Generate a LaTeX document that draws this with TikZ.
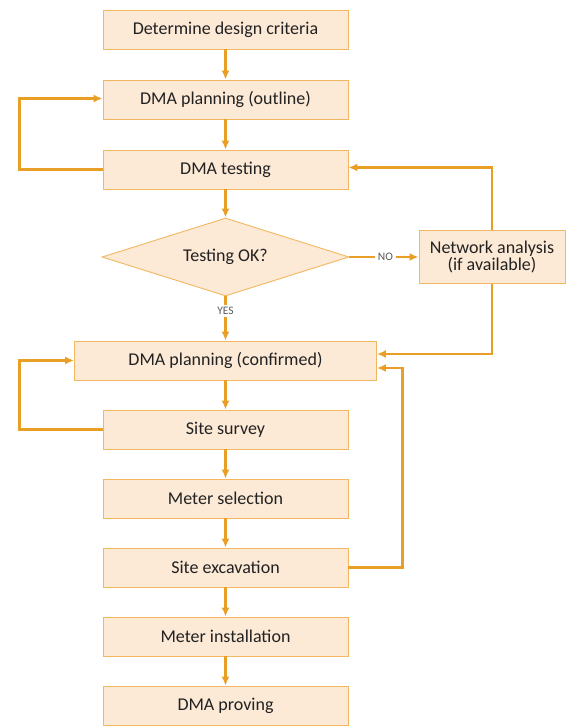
\documentclass[tikz,border=0pt]{standalone}
\usepackage{fontspec}
\setmainfont{Carlito}
\usetikzlibrary{positioning,shapes.geometric,arrows.meta}
\definecolor{flowline}{HTML}{E99E26}
\definecolor{boxedge}{HTML}{F2B860}
\definecolor{boxfill}{HTML}{FCE9D6}
\definecolor{ink}{HTML}{222222}
\tikzset{>={Latex[length=9pt,width=8pt]}}
\tikzset{
  stepbox/.style={draw=boxedge, line width=0.9pt, fill=boxfill, text=ink,
    minimum width=245pt, minimum height=39pt, inner sep=0pt,
    font=\fontsize{18}{19}\selectfont},
  flow/.style={draw=flowline, line width=2.2pt},
  lbl/.style={text=ink!75, inner sep=2.5pt, font=\fontsize{11.5}{12}\selectfont}
}

\begin{document}
\begin{tikzpicture}[x=1pt, y=1pt]
      \useasboundingbox (0,0) rectangle (567,-727);
      \node[stepbox] (n0) at (225.5,-29.5) {Determine design criteria};
      \node[stepbox, below of=n0, node distance=70pt] (n1) {DMA planning (outline)};
      \node[stepbox, below of=n1, node distance=70pt] (n2) {DMA testing};
      \node[stepbox, diamond, aspect=3.2, minimum width=247pt, minimum height=78pt, below of=n2, node distance=87.5pt] (dia) {Testing OK?};
      \node[stepbox, align=center, minimum width=146pt, minimum height=53pt, right of=dia, node distance=266.5pt, font=\fontsize{18}{16}\selectfont] (na) {Network analysis\\(if available)};
      \node[stepbox, minimum width=302pt, below of=dia, node distance=103.5pt] (n3) {DMA planning (confirmed)};
      \node[stepbox, below of=n3, node distance=69pt] (n4) {Site survey};
      \node[stepbox, below of=n4, node distance=69pt] (n5) {Meter selection};
      \node[stepbox, below of=n5, node distance=69pt] (n6) {Site excavation};
      \node[stepbox, below of=n6, node distance=69pt] (n7) {Meter installation};
      \node[stepbox, below of=n7, node distance=69pt] (n8) {DMA proving};
      \node[lbl, right of=dia, node distance=160pt] (no) {NO};
      \node[lbl, below of=dia, node distance=54pt] (yes) {YES};
      % main line down
      \draw[flow, ->] (n0) to (n1);
      \draw[flow, ->] (n1) to (n2);
      \draw[flow, ->] (n2) to (dia);
      \draw[flow] (dia.south) to (yes);
      \draw[flow, ->] (yes) to (n3);
      \draw[flow, ->] (n3) to (n4);
      \draw[flow, ->] (n4) to (n5);
      \draw[flow, ->] (n5) to (n6);
      \draw[flow, ->] (n6) to (n7);
      \draw[flow, ->] (n7) to (n8);
      % failed test
      \draw[flow] (dia.east) to (no);
      \draw[flow, ->] (no) to (na);
      \draw[flow, ->] (na.north) |- ([yshift=2pt]n2.east);
      \draw[flow, ->] (na.south) |- ([yshift=6.5pt]n3.east);
      % loops back
      \draw[flow, ->] (n2.west) -- ++(-83pt,0) |- ([yshift=1pt]n1.west);
      \draw[flow, ->] (n4.west) -- ++(-83pt,0) |- (n3.west);
      \draw[flow, ->] (n6.east) -- ++(54pt,0) |- ([yshift=-7.5pt]n3.east);
    \end{tikzpicture}
\end{document}
